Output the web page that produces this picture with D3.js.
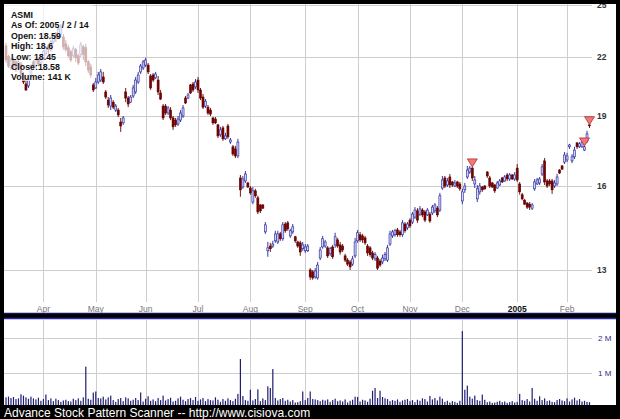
<!DOCTYPE html>
<html><head><meta charset="utf-8">
<script src="https://cdn.jsdelivr.net/npm/d3@7"></script>
<style>html,body{margin:0;padding:0;background:#000;}svg{display:block;}</style>
</head><body>
<svg id="c" width="620" height="419"></svg>
<script>
const infoLines = ["ASMI","As Of: 2005 / 2 / 14","Open: 18.59","High: 18.6","Low: 18.45","Close:18.58","Volume: 141 K"];
const monthLabels = ["Apr","May","Jun","Jul","Aug","Sep","Oct","Nov","Dec","2005","Feb"];
const monthIdx = [15,36,56,77,98,120,141,162,183,205,225];
const priceTicks = [25,22,19,16,13];
const volTicks = [1e6,2e6];
const volTickLabels = ["1 M","2 M"];
const footer = "Advance Stock Pattern Scanner -- http://www.cisiova.com";

const openP = [22.59,21.99,21.39,21.81,21.71,21.39,21.60,21.02,20.56,20.46,
20.97,21.71,21.49,21.81,21.65,21.93,22.15,22.59,22.37,22.81,
23.20,23.14,23.25,23.08,22.70,22.48,22.26,22.04,22.37,22.04,
22.10,22.53,22.48,21.71,21.44,20.51,20.36,20.66,20.76,20.92,
20.16,19.76,19.47,19.66,19.28,19.28,18.72,18.68,20.16,19.86,
19.66,19.96,20.16,20.66,21.18,21.39,21.54,21.54,20.97,21.02,
20.87,20.76,20.11,19.47,19.47,19.14,19.28,18.91,18.81,18.63,
18.81,19.00,19.86,19.86,20.51,20.56,20.41,20.76,20.26,19.91,
19.47,19.42,19.28,18.91,18.86,18.59,18.14,18.45,17.96,18.54,
17.82,17.61,17.52,17.22,16.31,15.95,16.19,16.11,15.91,15.37,
15.80,15.53,15.26,15.26,14.28,13.63,13.79,13.79,13.97,13.93,
14.21,14.04,14.56,14.60,14.14,14.28,14.11,13.93,13.90,13.70,
13.63,13.63,13.00,12.94,12.78,12.75,13.39,13.76,13.79,13.73,
13.53,13.76,13.83,14.00,13.83,13.79,13.46,13.32,13.26,13.19,
13.46,13.97,14.18,14.14,14.07,13.79,13.73,13.56,13.36,13.39,
13.29,13.26,13.36,13.32,13.86,14.14,14.18,14.35,14.28,14.18,
14.56,14.42,14.70,14.63,14.81,15.04,14.92,15.07,15.00,14.89,
14.92,14.96,15.04,15.14,15.07,15.91,16.31,16.03,16.35,16.15,
15.99,16.15,16.07,15.41,15.84,16.35,16.55,16.71,16.07,15.49,
15.76,15.95,15.99,16.55,16.31,16.11,16.03,15.91,16.03,16.31,
16.19,16.43,16.27,16.43,16.27,16.71,16.07,15.65,15.44,15.33,
15.29,15.14,15.88,16.07,16.11,16.47,17.01,16.19,16.19,16.19,
15.99,16.07,16.63,16.80,16.96,17.05,17.61,17.01,17.18,17.78,
17.61,17.61,17.47,17.87,18.59];
const highP = [22.76,22.10,21.93,21.93,21.81,21.93,21.71,21.18,20.76,20.97,
21.60,21.81,21.93,21.93,22.10,22.37,22.59,22.70,22.92,23.25,
23.37,23.66,23.83,23.25,22.92,22.64,22.37,22.59,22.48,22.15,
22.81,22.64,22.70,21.81,21.60,20.61,20.87,21.18,21.33,21.18,
20.26,19.91,20.01,19.76,19.57,19.38,18.91,19.00,20.36,19.96,
20.01,20.51,20.92,21.18,21.60,21.81,21.93,21.65,21.07,21.12,
21.18,20.97,20.26,19.57,19.57,19.47,19.42,19.00,18.91,19.00,
19.28,19.52,19.96,20.11,20.56,20.66,20.81,20.92,20.36,20.06,
19.81,19.52,19.38,18.95,18.95,18.63,18.50,18.54,18.23,18.63,
18.00,17.69,17.65,17.96,16.43,16.39,16.59,16.15,15.99,15.95,
15.88,15.61,15.29,15.29,14.63,13.93,13.90,13.97,14.32,14.32,
14.28,14.63,14.63,14.67,14.39,14.56,14.14,13.97,13.97,13.93,
13.86,13.86,13.06,13.00,13.06,13.26,13.76,14.14,14.00,13.79,
13.76,13.83,14.25,14.07,13.93,13.86,13.53,13.39,13.32,13.46,
14.07,14.35,14.28,14.21,14.14,13.86,13.79,13.63,13.59,13.46,
13.36,13.50,13.59,13.83,14.32,14.35,14.39,14.42,14.35,14.70,
14.63,14.63,14.77,15.00,15.18,15.14,15.22,15.14,15.07,15.14,
15.00,15.26,15.33,15.22,15.72,16.39,16.39,16.31,16.47,16.19,
16.23,16.19,16.15,15.88,16.11,16.80,16.80,16.76,16.39,16.03,
16.11,15.99,16.03,16.59,16.39,16.15,16.07,16.19,16.27,16.35,
16.43,16.51,16.51,16.47,16.55,16.88,16.15,15.72,15.49,15.37,
15.37,15.33,16.27,16.31,16.35,16.88,17.13,16.27,16.27,16.27,
16.23,16.47,16.67,16.84,17.39,17.35,17.74,17.30,17.61,17.82,
17.82,17.91,17.65,18.32,18.60];
const lowP = [21.65,21.39,21.28,21.28,21.18,21.28,20.97,20.56,20.21,20.36,
20.87,21.28,21.39,21.49,21.60,21.81,22.04,22.15,22.26,22.70,
22.81,23.03,23.03,22.37,22.26,21.93,21.71,21.93,21.71,21.54,
21.93,21.81,21.49,21.12,20.87,20.16,20.31,20.56,20.66,20.56,
19.81,19.38,19.28,19.33,19.19,18.95,18.27,18.59,19.66,19.42,
19.62,19.86,20.06,20.56,21.07,21.28,21.44,21.07,20.26,20.66,
20.81,20.01,19.76,18.81,19.05,19.05,18.81,18.36,18.50,18.54,
18.72,18.91,19.57,19.81,20.06,20.16,20.31,20.11,19.76,19.33,
19.38,19.05,19.00,18.59,18.63,18.00,18.05,17.87,17.91,17.96,
17.74,17.22,17.13,17.13,15.57,15.88,16.11,15.91,15.65,15.29,
15.53,14.92,14.96,15.11,14.21,13.43,13.59,13.73,13.90,13.86,
13.97,13.97,14.25,14.32,14.07,14.21,13.90,13.73,13.46,13.63,
13.56,13.59,12.69,12.69,12.72,12.69,13.32,13.70,13.73,13.39,
13.46,13.36,13.73,13.73,13.50,13.59,13.26,13.13,13.00,13.13,
13.39,13.90,13.93,13.90,13.83,13.46,13.43,13.32,13.29,13.00,
13.10,13.19,13.29,13.26,13.79,14.07,14.11,14.11,14.11,14.11,
14.25,14.35,14.42,14.56,14.74,14.60,14.85,14.81,14.63,14.85,
14.60,14.89,14.96,14.81,15.00,15.84,15.91,15.95,15.91,15.95,
15.95,15.91,15.80,15.29,15.72,16.27,16.47,16.19,15.91,15.37,
15.65,15.76,15.84,16.31,15.91,15.91,15.72,15.88,15.99,16.11,
16.15,16.19,16.19,16.23,16.19,16.15,15.65,15.44,15.26,15.11,
15.07,15.07,15.80,16.03,16.03,16.39,16.03,15.91,15.99,15.68,
15.91,15.99,16.47,16.63,16.88,16.96,17.52,16.92,17.09,17.52,
17.56,17.56,17.43,17.78,18.45];
const closeP = [21.81,21.49,21.81,21.49,21.39,21.71,21.07,20.66,20.26,20.87,
21.49,21.49,21.81,21.60,21.99,22.26,22.48,22.37,22.81,23.14,
23.03,23.54,23.66,22.53,22.37,22.04,21.81,22.42,21.93,21.65,
22.64,22.10,21.71,21.28,21.02,20.26,20.66,21.02,21.18,20.66,
19.91,19.52,19.86,19.42,19.47,19.05,18.54,18.91,19.86,19.57,
19.91,20.36,20.76,21.02,21.49,21.71,21.81,21.18,20.36,20.76,
21.07,20.16,19.81,18.91,19.14,19.38,18.91,18.50,18.59,18.86,
19.14,19.38,19.62,20.01,20.11,20.26,20.66,20.26,19.86,19.42,
19.71,19.14,19.09,18.68,18.68,18.09,18.36,17.96,18.09,18.05,
17.91,17.30,17.22,17.82,15.84,16.27,16.47,15.95,15.72,15.80,
15.61,15.00,15.04,15.14,14.53,13.73,13.70,13.86,14.21,14.21,
14.04,14.53,14.32,14.39,14.32,14.46,13.97,13.79,13.59,13.83,
13.76,13.79,12.78,12.75,12.97,13.16,13.66,14.04,13.93,13.46,
13.70,13.43,14.11,13.79,13.59,13.66,13.32,13.19,13.10,13.36,
13.93,14.25,14.00,14.00,13.90,13.56,13.50,13.39,13.50,13.06,
13.16,13.39,13.50,13.73,14.21,14.28,14.32,14.18,14.18,14.60,
14.32,14.56,14.49,14.92,15.07,14.70,15.11,14.89,14.70,15.07,
14.67,15.18,15.26,14.89,15.61,16.23,15.99,16.19,16.03,16.03,
16.11,15.99,15.88,15.76,15.99,16.63,16.71,16.31,16.23,15.88,
15.99,15.84,15.88,16.39,15.99,15.95,15.80,16.11,16.19,16.15,
16.35,16.27,16.43,16.27,16.43,16.23,15.76,15.49,15.29,15.18,
15.18,15.26,16.15,16.23,16.27,16.76,16.15,15.99,16.07,15.84,
16.11,16.35,16.51,16.67,17.26,17.22,17.69,17.18,17.47,17.61,
17.74,17.82,17.61,18.18,18.58];
const volumeK = [280,300,260,290,230,250,370,330,280,240,
300,250,220,270,180,230,360,200,250,170,
240,200,150,190,210,170,160,240,200,250,
180,280,1170,240,210,420,450,260,250,300,
220,280,330,200,150,230,260,170,280,250,
180,210,260,200,420,160,240,310,180,220,
170,260,200,330,190,230,270,160,180,250,
300,210,170,230,260,200,290,180,220,260,
170,230,200,190,280,210,150,230,180,250,
200,170,240,380,1390,320,200,180,500,190,
230,510,170,250,200,600,550,1100,260,190,
230,260,180,210,160,200,130,140,170,450,
200,260,450,230,220,200,170,210,190,220,
150,200,240,170,190,160,220,130,180,210,
300,290,160,210,190,150,240,470,550,260,
470,290,250,230,170,200,180,220,150,190,
210,230,170,200,140,210,180,250,230,160,
320,220,260,190,300,240,150,180,130,170,
150,120,180,2200,500,620,300,240,330,200,
180,360,210,140,160,120,130,150,180,140,
160,120,140,170,130,150,380,200,180,230,
160,550,240,180,310,200,250,170,190,150,
140,200,230,190,170,250,160,220,270,190,
230,160,180,150,141];
const signalIdx = [187,232,234];

const svg = d3.select("#c");
const n = closeP.length;
const x = d3.scaleLinear().domain([0, n - 1]).range([6, 589.5]);
const y = d3.scaleLog().domain([13, 19]).range([270, 116]);
const yv = d3.scaleLinear().domain([0, 2e6]).range([407, 338]);
const font = "Liberation Sans, Arial, sans-serif";

svg.append("rect").attr("width",620).attr("height",419).attr("fill","#000");
const defs = svg.append("defs");
defs.append("clipPath").attr("id","pc").append("rect").attr("x",4).attr("y",4).attr("width",612).attr("height",309);
defs.append("clipPath").attr("id","vc").append("rect").attr("x",4).attr("y",319).attr("width",612).attr("height",86);

// price panel
svg.append("rect").attr("x",4).attr("y",4).attr("width",612).attr("height",309).attr("fill","#fff");
svg.append("line").attr("x1",4).attr("x2",616).attr("y1",313.5).attr("y2",313.5).attr("stroke","#14145a").attr("stroke-width",1.5);
const pg = svg.append("g").attr("clip-path","url(#pc)");
pg.selectAll("line.h").data(priceTicks).join("line")
  .attr("x1",4).attr("x2",592).attr("y1",d=>Math.round(y(d))+0.5).attr("y2",d=>Math.round(y(d))+0.5)
  .attr("stroke","#cdcdcd").attr("stroke-width",1);
pg.selectAll("line.v").data(monthIdx).join("line")
  .attr("x1",d=>Math.round(x(d))+0.5).attr("x2",d=>Math.round(x(d))+0.5).attr("y1",4).attr("y2",302)
  .attr("stroke","#cdcdcd").attr("stroke-width",1);
pg.selectAll("text.yl").data(priceTicks).join("text")
  .attr("x",597).attr("y",d=>y(d)+3)
  .attr("font-family",font).attr("font-size",8.5).attr("font-weight","bold")
  .attr("fill","#333").text(d=>d);
pg.selectAll("text.ml").data(monthIdx).join("text")
  .attr("x",d=>x(d)).attr("y",312).attr("text-anchor","middle")
  .attr("font-family",font).attr("font-size",8.5)
  .attr("font-weight",(d,i)=>monthLabels[i]==="2005"?"bold":"normal")
  .attr("fill",(d,i)=>monthLabels[i]==="2005"?"#111":"#777")
  .text((d,i)=>monthLabels[i]);

// candles
const idx = d3.range(n);
const up = i => closeP[i] >= openP[i];
const cg = pg.append("g");
cg.selectAll("line.w").data(idx).join("line")
  .attr("x1",i=>x(i)).attr("x2",i=>x(i)).attr("y1",i=>y(highP[i])).attr("y2",i=>y(lowP[i]))
  .attr("stroke",i=>up(i)?"#22229a":"#600000").attr("stroke-width",0.9);
cg.selectAll("rect.b").data(idx).join("rect")
  .attr("x",i=>x(i)-1).attr("width",2)
  .attr("y",i=>y(Math.max(openP[i],closeP[i])))
  .attr("height",i=>Math.max(1, y(Math.min(openP[i],closeP[i]))-y(Math.max(openP[i],closeP[i]))))
  .attr("fill",i=>up(i)?"#d4d4f6":"#7a0000")
  .attr("stroke",i=>up(i)?"#22229a":"#600000").attr("stroke-width",0.6);

// signal markers
pg.selectAll("path.sig").data(signalIdx).join("path")
  .attr("d",i=>{const cx=x(i), ty=y(highP[i]); return `M${cx-5},${ty-8}L${cx+5},${ty-8}L${cx},${ty}Z`;})
  .attr("fill","#f07878").attr("stroke","#b03030").attr("stroke-width",0.8);

// info overlay
pg.append("rect").attr("x",4).attr("y",4).attr("width",89).attr("height",77).attr("fill","#fff").attr("opacity",0.68);
pg.selectAll("text.info").data(infoLines).join("text")
  .attr("x",11).attr("y",(d,i)=>18+i*10.4)
  .attr("font-family",font).attr("font-size",8.8).attr("font-weight","bold")
  .attr("fill","#111").text(d=>d);

// volume panel
svg.append("rect").attr("x",4).attr("y",318).attr("width",612).attr("height",87).attr("fill","#fff");
svg.append("line").attr("x1",4).attr("x2",616).attr("y1",318.5).attr("y2",318.5).attr("stroke","#2a2aa8").attr("stroke-width",1.5);
const vg = svg.append("g").attr("clip-path","url(#vc)");
vg.selectAll("line.vh").data(volTicks).join("line")
  .attr("x1",4).attr("x2",592).attr("y1",d=>Math.round(yv(d))+0.5).attr("y2",d=>Math.round(yv(d))+0.5)
  .attr("stroke","#cdcdcd");
vg.selectAll("line.vv").data(monthIdx).join("line")
  .attr("x1",d=>Math.round(x(d))+0.5).attr("x2",d=>Math.round(x(d))+0.5).attr("y1",319).attr("y2",405)
  .attr("stroke","#cdcdcd");
vg.selectAll("text.vl").data(volTicks).join("text")
  .attr("x",598).attr("y",d=>yv(d)+3)
  .attr("font-family",font).attr("font-size",8)
  .attr("fill","#2a2a8a").text((d,i)=>volTickLabels[i]);
vg.selectAll("rect.vb").data(idx).join("rect")
  .attr("x",i=>x(i)-0.6).attr("width",1.2)
  .attr("y",i=>yv(volumeK[i]*1000)).attr("height",i=>405-yv(volumeK[i]*1000))
  .attr("fill","#1e1e72");

// footer
svg.append("text").attr("x",4).attr("y",416.5)
  .attr("font-family",font).attr("font-size",12)
  .attr("fill","#fff").text(footer);
</script>
</body></html>
